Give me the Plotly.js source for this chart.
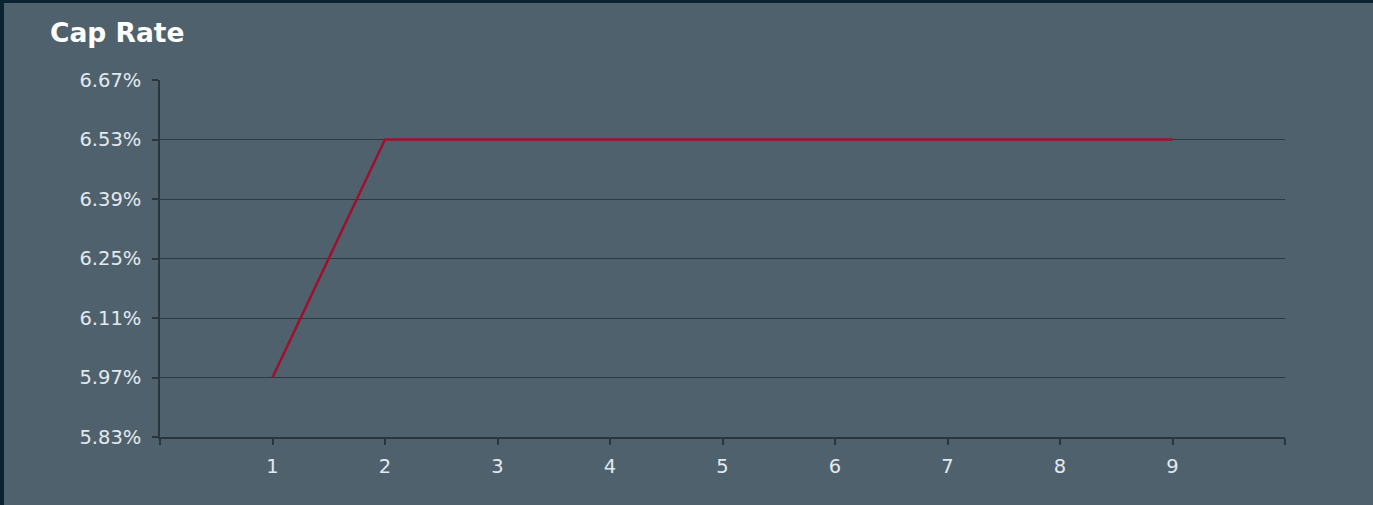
<!DOCTYPE html>
<html>
<head>
<meta charset="utf-8">
<script src="https://cdn.plot.ly/plotly-3.0.1.min.js"></script>
<style>
html,body{margin:0;padding:0;background:#0b2231;width:1373px;height:505px;overflow:hidden;}
#chart{position:absolute;left:4px;top:3px;width:1369px;height:502px;}
</style>
</head>
<body>
<div id="chart"></div>
<script>
const periods = [1, 2, 3, 4, 5, 6, 7, 8, 9];
const capRate = [5.97, 6.53, 6.53, 6.53, 6.53, 6.53, 6.53, 6.53, 6.53];
const yTickVals = [5.83, 5.97, 6.11, 6.25, 6.39, 6.53, 6.67];
const yTickText = ["5.83%", "5.97%", "6.11%", "6.25%", "6.39%", "6.53%", "6.67%"];
const xTickVals = [0, 1, 2, 3, 4, 5, 6, 7, 8, 9, 10];
const xTickText = ["", "1", "2", "3", "4", "5", "6", "7", "8", "9", ""];

const trace = {
  x: periods,
  y: capRate,
  type: 'scatter',
  mode: 'lines',
  line: {color: '#a0102c', width: 2.5},
  hoverinfo: 'x+y'
};

const tickFont = {family: 'DejaVu Sans', size: 19.5, color: '#e3e9ee'};

const layout = {
  width: 1369,
  height: 502,
  paper_bgcolor: '#4f616d',
  plot_bgcolor: '#4f616d',
  margin: {l: 156, r: 88, t: 77, b: 68},
  showlegend: false,
  title: {
    text: '<b>Cap Rate</b>',
    x: 46/1369, xref: 'container', xanchor: 'left',
    y: 1 - 30/502, yref: 'container', yanchor: 'middle',
    font: {family: 'DejaVu Sans', size: 26.5, color: '#ffffff'}
  },
  xaxis: {
    range: [0, 10],
    tickvals: xTickVals,
    ticktext: xTickText,
    ticks: 'outside',
    ticklen: 6,
    tickcolor: '#2b353c',
    tickwidth: 1.5,
    ticklabelstandoff: 5,
    showgrid: false,
    zeroline: false,
    showline: true,
    linecolor: '#2b353c',
    linewidth: 1.5,
    tickfont: tickFont,
    fixedrange: true
  },
  yaxis: {
    range: [5.83, 6.67],
    tickvals: yTickVals,
    ticktext: yTickText,
    ticks: 'outside',
    ticklen: 6,
    tickcolor: '#2b353c',
    tickwidth: 1.5,
    ticklabelstandoff: 7,
    showgrid: true,
    gridcolor: '#2e3a42',
    gridwidth: 1.3,
    zeroline: false,
    showline: true,
    linecolor: '#2b353c',
    linewidth: 1.5,
    tickfont: tickFont,
    fixedrange: true
  }
};

Plotly.newPlot('chart', [trace], layout, {displayModeBar: false});
</script>
</body>
</html>
